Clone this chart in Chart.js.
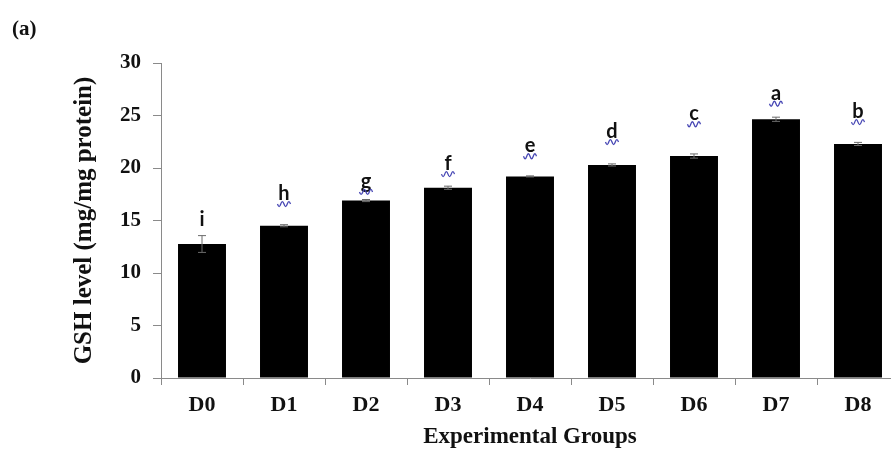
<!DOCTYPE html>
<html>
<head>
<meta charset="utf-8">
<script src="https://cdn.jsdelivr.net/npm/chart.js@4.4.1/dist/chart.umd.min.js"></script>
<style>
  html, body { margin: 0; padding: 0; background: #fff; overflow: hidden; }
  #wrap { width: 891px; height: 451px; overflow: hidden; }
  canvas { display: block; }
</style>
</head>
<body>
<div id="wrap"><canvas id="chart" width="900" height="451"></canvas></div>
<script>
// Experimental groups and GSH level (mean ± error) per group
const groups = ['D0', 'D1', 'D2', 'D3', 'D4', 'D5', 'D6', 'D7', 'D8'];
const gshMeans = [12.76, 14.5, 16.9, 18.12, 19.2, 20.29, 21.14, 24.64, 22.29];
const gshErrors = [0.8, 0.1, 0.1, 0.15, 0.05, 0.1, 0.2, 0.2, 0.15];
// Significance letters and the value level at which each letter sits
const sigLetters = ['i', 'h', 'g', 'f', 'e', 'd', 'c', 'a', 'b'];
const letterLevels = [14.5, 16.95, 18.1, 19.8, 21.5, 22.85, 24.55, 26.5, 24.75];
const yTickStep = 5;
const yMax = 30;

const serif = '"Liberation Serif", "Times New Roman", serif';
const axisGrey = '#8a8a8a';

// Error bars, significance letters (with wavy underline) and panel tag
const annotate = {
  id: 'annotate',
  afterDatasetsDraw(chart) {
    const ctx = chart.ctx;
    const y = chart.scales.y;
    const meta = chart.getDatasetMeta(0);
    ctx.save();
    meta.data.forEach((bar, i) => {
      const x = bar.x;
      const top = y.getPixelForValue(gshMeans[i] + gshErrors[i]);
      const bot = y.getPixelForValue(gshMeans[i] - gshErrors[i]);
      ctx.strokeStyle = '#6a6a6a';
      ctx.lineWidth = 1;
      ctx.beginPath();
      ctx.moveTo(x, top); ctx.lineTo(x, bot);
      ctx.moveTo(x - 4, top); ctx.lineTo(x + 4, top);
      ctx.moveTo(x - 4, bot); ctx.lineTo(x + 4, bot);
      ctx.stroke();

      const ly = y.getPixelForValue(letterLevels[i]);
      ctx.fillStyle = '#111';
      ctx.font = 'bold 20px Lato, "Open Sans", sans-serif';
      ctx.textAlign = 'center';
      ctx.textBaseline = 'alphabetic';
      ctx.fillText(sigLetters[i], x, ly);

      if (sigLetters[i] !== 'i') {
        ctx.strokeStyle = '#4646b4';
        ctx.lineWidth = 1.3;
        ctx.beginPath();
        const w = 13, sx = x - w / 2, by = ly + 4;
        ctx.moveTo(sx, by);
        for (let k = 0; k < 4; k++) {
          const x0 = sx + k * w / 4;
          ctx.quadraticCurveTo(x0 + w / 8, by + (k % 2 === 0 ? 5 : -5), x0 + w / 4, by);
        }
        ctx.stroke();
      }
    });
    ctx.fillStyle = '#111';
    ctx.font = 'bold 21px ' + serif;
    ctx.textAlign = 'left';
    ctx.textBaseline = 'middle';
    ctx.fillText('(a)', 12, 30);
    ctx.restore();
  }
};

new Chart(document.getElementById('chart'), {
  type: 'bar',
  data: {
    labels: groups,
    datasets: [{
      data: gshMeans,
      backgroundColor: '#000',
      borderWidth: 0,
      categoryPercentage: 1,
      barPercentage: 0.585
    }]
  },
  options: {
    responsive: false,
    animation: false,
    layout: { padding: { top: 63, right: 1, left: 0, bottom: 0 } },
    plugins: { legend: { display: false }, tooltip: { enabled: false } },
    scales: {
      x: {
        grid: { display: true, drawOnChartArea: false, offset: true, color: axisGrey, tickLength: 7 },
        border: { color: axisGrey, width: 1 },
        ticks: { color: '#111', font: { family: serif, size: 22, weight: 'bold' }, padding: 7 },
        title: {
          display: true, text: 'Experimental Groups', color: '#111',
          font: { family: serif, size: 23, weight: 'bold' }, padding: { top: 0, bottom: 0 }
        },
        afterFit(scale) { scale.height = 73; }
      },
      y: {
        min: 0, max: yMax,
        grid: { display: true, drawOnChartArea: false, color: axisGrey, tickLength: 8 },
        border: { color: axisGrey, width: 1 },
        ticks: { stepSize: yTickStep, color: '#111', font: { family: serif, size: 21, weight: 'bold' }, padding: 12 },
        title: {
          display: true, text: 'GSH level (mg/mg protein)', color: '#111',
          font: { family: serif, size: 25, weight: 'bold' }, padding: { top: 70, bottom: 0 }
        },
        afterFit(scale) { scale.width = 161; }
      }
    }
  },
  plugins: [annotate]
});
</script>
</body>
</html>
